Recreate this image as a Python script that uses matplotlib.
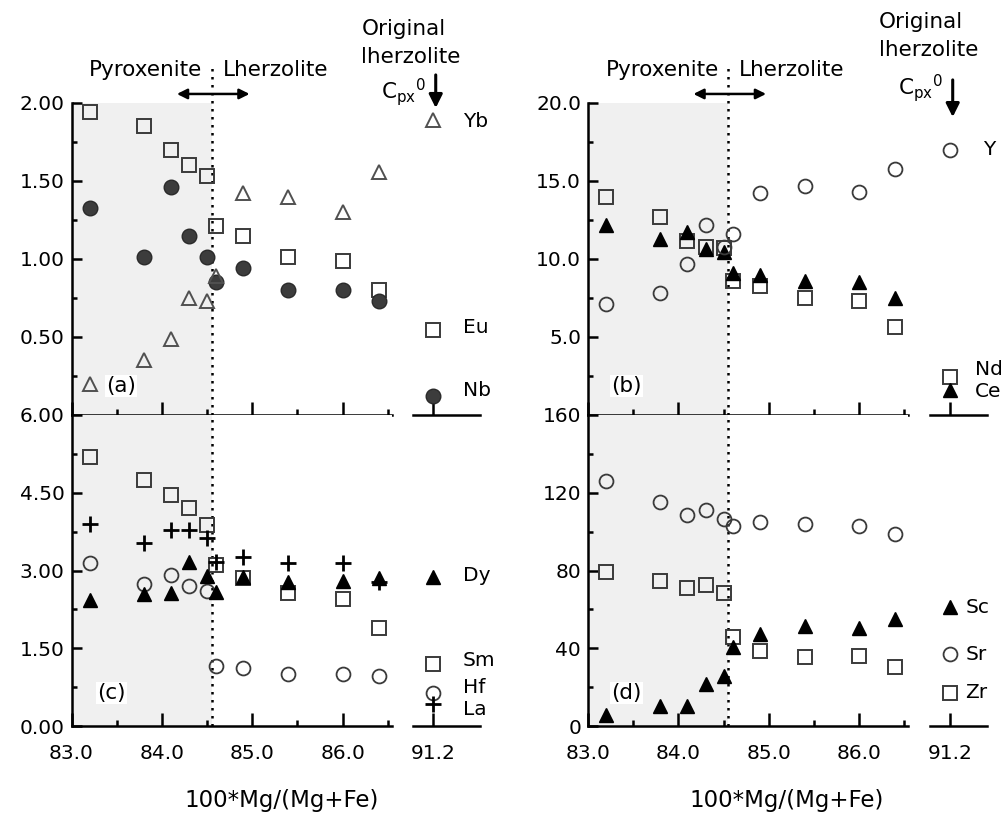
import numpy as np
import matplotlib
matplotlib.use('Agg')
from matplotlib import pyplot as plt
from matplotlib.ticker import FixedLocator

# Mg-number of the samples and of the original lherzolite clinopyroxene
mg_num = [83.2, 83.8, 84.1, 84.3, 84.5, 84.6, 84.9, 85.4, 86.0, 86.4]
mg_orig = 91.2

# (a) Yb, Eu, Nb
yb = [0.20, 0.35, 0.49, 0.75, 0.73, 0.89, 1.42, 1.40, 1.30, 1.56]
eu = [1.94, 1.85, 1.70, 1.60, 1.53, 1.21, 1.15, 1.01, 0.99, 0.80]
nb = [1.33, 1.01, 1.46, 1.15, 1.01, 0.85, 0.94, 0.80, 0.80, 0.73]
yb_0, eu_0, nb_0 = 1.89, 0.545, 0.12

# (b) Y, Nd, Ce
y_el = [7.1, 7.8, 9.7, 12.2, 10.8, 11.6, 14.2, 14.7, 14.3, 15.8]
nd = [14.0, 12.7, 11.15, 10.8, 10.7, 8.6, 8.3, 7.5, 7.3, 5.65]
ce = [12.2, 11.3, 11.7, 10.65, 10.45, 9.1, 9.0, 8.6, 8.55, 7.5]
y_0, nd_0, ce_0 = 17.0, 2.45, 1.6

# (c) Dy, Sm, Hf, La
dy = [2.43, 2.55, 2.57, 3.17, 2.90, 2.59, 2.88, 2.78, 2.80, 2.86]
sm = [5.19, 4.75, 4.46, 4.21, 3.88, 3.11, 2.86, 2.57, 2.45, 1.89]
hf = [3.15, 2.74, 2.92, 2.70, 2.61, 1.16, 1.12, 1.00, 1.00, 0.97]
la = [3.90, 3.53, 3.78, 3.78, 3.63, 3.17, 3.26, 3.15, 3.15, 2.78]
dy_0, sm_0, hf_0, la_0 = 2.88, 1.20, 0.64, 0.42

# (d) Sc, Sr, Zr
sc = [5.7, 10.3, 10.3, 21.6, 25.7, 40.6, 47.3, 51.4, 50.4, 55.0]
sr = [126, 115, 108.5, 111, 106.5, 103, 105, 104, 103, 99]
zr = [79.2, 74.6, 71.0, 72.5, 68.4, 45.8, 38.6, 35.5, 36.0, 30.4]
sc_0, sr_0, zr_0 = 61, 37, 17

boundary = 84.55

open_tri = dict(marker='^', ms=10.5, mfc='none', mec='#505050', mew=1.4, ls='none')
open_sq = dict(marker='s', ms=10, mfc='none', mec='#3a3a3a', mew=1.4, ls='none')
open_circ = dict(marker='o', ms=10, mfc='none', mec='#3a3a3a', mew=1.3, ls='none')
dark_circ = dict(marker='o', ms=10.5, mfc='#3c3c3c', mec='#2a2a2a', mew=1.0, ls='none')
solid_tri = dict(marker='^', ms=10.5, mfc='black', mec='black', mew=1.0, ls='none')
plus = dict(marker='+', ms=12, mec='black', mew=2.0, ls='none')

plt.rcParams['font.family'] = ['DejaVu Sans']

fig = plt.figure(figsize=(10.05, 8.15), dpi=100)

W, H = 1005.0, 815.0
up_b, up_h = 1 - 415 / H, (415 - 103) / H
lo_b, lo_h = 1 - 726 / H, (726 - 415) / H

ax_a = fig.add_axes([71.5 / W, up_b, 320 / W, up_h])
ax_a2 = fig.add_axes([413 / W, up_b, 67 / W, up_h])
ax_c = fig.add_axes([71.5 / W, lo_b, 320 / W, lo_h])
ax_c2 = fig.add_axes([413 / W, lo_b, 67 / W, lo_h])
ax_b = fig.add_axes([588 / W, up_b, 320 / W, up_h])
ax_b2 = fig.add_axes([930 / W, up_b, 57 / W, up_h])
ax_d = fig.add_axes([588 / W, lo_b, 320 / W, lo_h])
ax_d2 = fig.add_axes([930 / W, lo_b, 57 / W, lo_h])


def setup_main(ax, ylim, major, minor, fmt, upper):
    ax.set_xlim(83.0, 86.54)
    ax.set_ylim(*ylim)
    for s in ['top', 'right']:
        ax.spines[s].set_visible(False)
    for s in ['left', 'bottom']:
        ax.spines[s].set_linewidth(1.8)
    ax.xaxis.set_major_locator(FixedLocator([83.0, 84.0, 85.0, 86.0]))
    ax.xaxis.set_minor_locator(FixedLocator([83.5, 84.5, 85.5, 86.5]))
    ax.yaxis.set_major_locator(FixedLocator(major))
    ax.yaxis.set_minor_locator(FixedLocator(minor))
    ax.set_yticklabels([fmt % v for v in major])
    if upper:
        ax.set_xticklabels([])
    else:
        ax.set_xticklabels(['83.0', '84.0', '85.0', '86.0'])
    ax.tick_params(axis='x', which='major', direction='in', length=9.5, width=1.8,
                   labelsize=14.5, pad=13)
    ax.tick_params(axis='x', which='minor', direction='in', length=4.5, width=1.8)
    ax.tick_params(axis='y', which='major', direction='in', length=7, width=1.8,
                   labelsize=14.5, pad=5)
    ax.tick_params(axis='y', which='minor', direction='in', length=3.5, width=1.8)
    ax.axvspan(83.0, boundary, color='#f0f0f0', lw=0, zorder=0)
    ymax = 1.122 if upper else 1.0
    ax.axvline(boundary, ymin=0, ymax=ymax, color='black', lw=1.8,
               ls=(0, (1.0, 2.2)), zorder=1.5, clip_on=False)


def setup_break(ax, ylim, xmax, upper):
    ax.set_xlim(90.979, xmax)
    ax.set_ylim(*ylim)
    for s in ['top', 'right', 'left']:
        ax.spines[s].set_visible(False)
    ax.spines['bottom'].set_linewidth(1.8)
    ax.patch.set_visible(False)
    ax.set_yticks([])
    ax.set_xticks([mg_orig])
    ax.set_xticklabels([] if upper else ['91.2'])
    ax.tick_params(axis='x', direction='in', length=9.5, width=1.8, labelsize=14.5, pad=13)


def header(ax, ax2, arrow_top, arrow_bot, cpx_y, orig_y):
    tr = ax.get_xaxis_transform()
    ax.text(84.45, 1.087, 'Pyroxenite', transform=tr, ha='right', va='baseline',
            fontsize=15.5)
    ax.text(84.67, 1.087, 'Lherzolite', transform=tr, ha='left', va='baseline',
            fontsize=15.5)
    ax.annotate('', xy=(84.97, 1.029), xytext=(84.166, 1.029), xycoords=tr,
                textcoords=tr,
                arrowprops=dict(arrowstyle='<|-|>', color='black', lw=1.8,
                                mutation_scale=15, shrinkA=0, shrinkB=0))
    tr2 = ax2.get_xaxis_transform()
    ax2.annotate('', xy=(91.23, arrow_bot), xytext=(91.23, arrow_top), xycoords=tr2,
                 textcoords=tr2,
                 arrowprops=dict(arrowstyle='-|>', color='black', lw=2.2,
                                 mutation_scale=20, shrinkA=0, shrinkB=0))
    ax2.text(91.125, cpx_y, r'C$_{\mathregular{px}}$$^{\mathregular{0}}$', transform=tr2,
             ha='right', va='center', fontsize=15.5)
    ax2.text(90.41, orig_y[0], 'Original', transform=tr2, ha='left',
             va='baseline', fontsize=15.5)
    ax2.text(90.41, orig_y[1], 'lherzolite', transform=tr2, ha='left',
             va='baseline', fontsize=15.5)


def panel_tag(ax, text, x, y):
    ax.text(x, y, text, transform=ax.transAxes, ha='left', va='center', fontsize=15.5,
            bbox=dict(facecolor='white', edgecolor='none', pad=1.0), zorder=2)


def labels(ax, x, items):
    for name, yy in items:
        ax.text(x, yy, name, ha='left', va='center', fontsize=14.5, clip_on=False)


# panel (a)
setup_main(ax_a, (0, 2.0), [0.5, 1.0, 1.5, 2.0], [0.25, 0.75, 1.25, 1.75], '%.2f', True)
ax_a.plot(mg_num, eu, zorder=3, **open_sq)
ax_a.plot(mg_num, nb, zorder=3, **dark_circ)
ax_a.plot(mg_num, yb, zorder=3, **open_tri)
setup_break(ax_a2, (0, 2.0), 91.719, True)
ax_a2.plot([mg_orig], [yb_0], clip_on=False, zorder=3, **open_tri)
ax_a2.plot([mg_orig], [eu_0], clip_on=False, zorder=3, **open_sq)
ax_a2.plot([mg_orig], [nb_0], clip_on=False, zorder=3, **dark_circ)
labels(ax_a2, 91.53, [('Yb', 1.88), ('Eu', 0.56), ('Nb', 0.16)])
header(ax_a, ax_a2, 1.090, 0.984, 1.035, (1.218, 1.128))
panel_tag(ax_a, '(a)', 0.108, 0.093)

# panel (b)
setup_main(ax_b, (0, 20.0), [5, 10, 15, 20], [2.5, 7.5, 12.5, 17.5], '%.1f', True)
ax_b.plot(mg_num, nd, zorder=3, **open_sq)
ax_b.plot(mg_num, ce, zorder=3, **solid_tri)
ax_b.plot(mg_num, y_el, zorder=3, **open_circ)
setup_break(ax_b2, (0, 20.0), 91.609, True)
ax_b2.plot([mg_orig], [y_0], clip_on=False, zorder=3, **open_circ)
ax_b2.plot([mg_orig], [nd_0], clip_on=False, zorder=3, **open_sq)
ax_b2.plot([mg_orig], [ce_0], clip_on=False, zorder=3, **solid_tri)
labels(ax_b2, 91.56, [('Y', 17.0)])
labels(ax_b2, 91.48, [('Nd', 2.9), ('Ce', 1.5)])
header(ax_b, ax_b2, 1.074, 0.955, 1.048, (1.240, 1.151))
panel_tag(ax_b, '(b)', 0.072, 0.093)

# panel (c)
setup_main(ax_c, (0, 6.0), [0, 1.5, 3.0, 4.5, 6.0], [0.75, 2.25, 3.75, 5.25], '%.2f', False)
ax_c.plot(mg_num, sm, zorder=3, **open_sq)
ax_c.plot(mg_num, hf, zorder=3, **open_circ)
ax_c.plot(mg_num, la, zorder=3, **plus)
ax_c.plot(mg_num, dy, zorder=3, **solid_tri)
setup_break(ax_c2, (0, 6.0), 91.719, False)
ax_c2.plot([mg_orig], [dy_0], clip_on=False, zorder=3, **solid_tri)
ax_c2.plot([mg_orig], [sm_0], clip_on=False, zorder=3, **open_sq)
ax_c2.plot([mg_orig], [hf_0], clip_on=False, zorder=3, **open_circ)
ax_c2.plot([mg_orig], [la_0], clip_on=False, zorder=3, **plus)
labels(ax_c2, 91.53, [('Dy', 2.91), ('Sm', 1.27), ('Hf', 0.75), ('La', 0.31)])
panel_tag(ax_c, '(c)', 0.080, 0.106)

# panel (d)
setup_main(ax_d, (0, 160), [0, 40, 80, 120, 160], [20, 60, 100, 140], '%d', False)
ax_d.plot(mg_num, sr, zorder=3, **open_circ)
ax_d.plot(mg_num, zr, zorder=3, **open_sq)
ax_d.plot(mg_num, sc, zorder=3, **solid_tri)
setup_break(ax_d2, (0, 160), 91.609, False)
ax_d2.plot([mg_orig], [sc_0], clip_on=False, zorder=3, **solid_tri)
ax_d2.plot([mg_orig], [sr_0], clip_on=False, zorder=3, **open_circ)
ax_d2.plot([mg_orig], [zr_0], clip_on=False, zorder=3, **open_sq)
labels(ax_d2, 91.37, [('Sc', 61), ('Sr', 37), ('Zr', 17)])
panel_tag(ax_d, '(d)', 0.072, 0.106)

fig.text(282 / W, 1 - 800 / H, '100*Mg/(Mg+Fe)', ha='center', va='center', fontsize=16.5)
fig.text(787 / W, 1 - 800 / H, '100*Mg/(Mg+Fe)', ha='center', va='center', fontsize=16.5)

fig.savefig('out.png', dpi=100)
